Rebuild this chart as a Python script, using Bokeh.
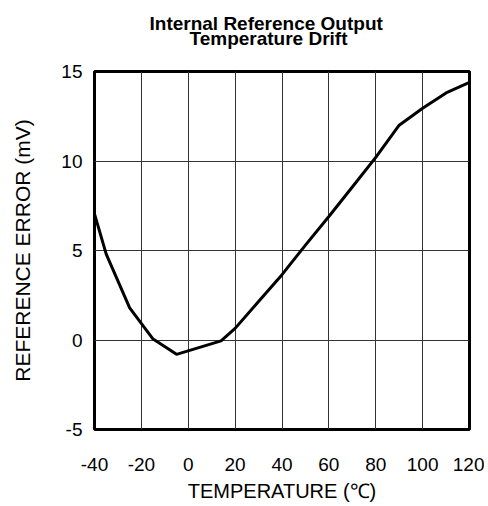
from bokeh.plotting import figure
from bokeh.models import Range1d, FixedTicker, Title
from bokeh.embed import file_html
from bokeh.resources import INLINE

# Data
temperature_c = [-40, -35, -25, -15, -5, 14, 20, 30, 40, 50, 60, 70, 80, 90, 100, 110, 120]
reference_error_mv = [7.05, 4.8, 1.8, 0.05, -0.8, -0.05, 0.65, 2.15, 3.65, 5.3, 6.9, 8.55, 10.2, 12.0, 12.95, 13.8, 14.4]

x_ticks = [-40, -20, 0, 20, 40, 60, 80, 100, 120]
x_tick_labels = ["-40", "-20", "0", "20", "40", "60", "80", "100", "120"]
y_ticks = [-5, 0, 5, 10, 15]
y_tick_labels = ["-5", "0", "5", "10", "15"]

title_line1 = "Internal Reference Output"
title_line2 = "Temperature Drift"
x_label = "TEMPERATURE (\u2103)"
y_label = "REFERENCE ERROR (mV)"

FONT = "Liberation Sans"

p = figure(width=484, height=504, output_backend="svg", toolbar_location=None,
           x_range=Range1d(-40, 120), y_range=Range1d(-5, 15),
           min_border_left=94, min_border_right=15, min_border_top=71, min_border_bottom=73,
           background_fill_color="white", border_fill_color="white")

# title block: spacer next to the frame, then line 2, then line 1 (later added = further out)
spacer = Title(text=" ", text_font_size="1px", standoff=20, text_color="white")
t2 = Title(text=title_line2, align="left", offset=95, standoff=0,
           text_font=FONT, text_font_size="19px", text_font_style="bold", text_color="black")
t1 = Title(text=title_line1, align="left", offset=55, standoff=-16,
           text_font=FONT, text_font_size="19px", text_font_style="bold", text_color="black")
p.add_layout(spacer, "above")
p.add_layout(t2, "above")
p.add_layout(t1, "above")

p.line(temperature_c, reference_error_mv, line_color="black", line_width=3)

p.xaxis.ticker = FixedTicker(ticks=x_ticks)
p.yaxis.ticker = FixedTicker(ticks=y_ticks)
p.xaxis.major_label_overrides = dict(zip(x_ticks, x_tick_labels))
p.yaxis.major_label_overrides = dict(zip(y_ticks, y_tick_labels))

for ax in (p.xaxis, p.yaxis):
    ax.axis_line_color = None
    ax.major_tick_line_color = None
    ax.minor_tick_line_color = None
    ax.major_tick_out = 0
    ax.major_tick_in = 0
    ax.major_label_text_font = FONT
    ax.major_label_text_font_size = "19px"
    ax.major_label_text_color = "black"
    ax.axis_label_text_font = FONT
    ax.axis_label_text_font_style = "normal"
    ax.axis_label_text_color = "black"

p.xaxis.axis_label = x_label
p.yaxis.axis_label = y_label
p.xaxis.axis_label_text_font_size = "20px"
p.yaxis.axis_label_text_font_size = "21px"
p.xaxis.major_label_standoff = 28
p.xaxis.axis_label_standoff = 6
p.yaxis.major_label_standoff = 12
p.yaxis.axis_label_standoff = 24

p.xgrid.grid_line_color = "#333333"
p.ygrid.grid_line_color = "#333333"
p.xgrid.grid_line_width = 1
p.ygrid.grid_line_width = 1

p.outline_line_color = "black"
p.outline_line_width = 3
p.outline_line_alpha = 1.0

open("out.html", "w").write(file_html(p, INLINE))
